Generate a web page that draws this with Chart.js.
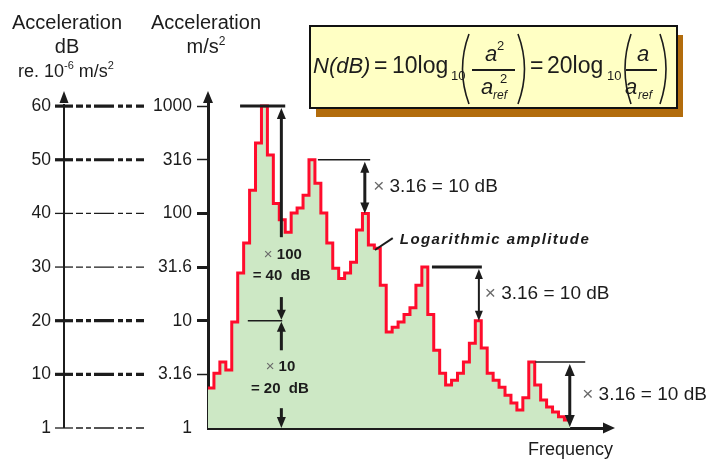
<!DOCTYPE html>
<html>
<head>
<meta charset="utf-8">
<script src="https://cdn.jsdelivr.net/npm/chart.js@4/dist/chart.umd.min.js"></script>
<style>
  html, body { margin: 0; padding: 0; background: #ffffff; }
  #wrap { width: 713px; height: 459px; position: relative; }
</style>
</head>
<body>
<div id="wrap"><canvas id="spectrum"></canvas></div>
<script>
// Band levels of the spectrum (m/s²), one value per equal-width frequency band
const bandLevels = [
  2.36, 3.24, 4.12, 3.47, 9.72, 27.9, 53.1, 164, 452, 1000,
  351, 124, 87.1, 66.8, 101, 112, 148, 316, 191, 101,
  53.1, 30.9, 24.8, 27.9, 35.1, 70.0, 100, 50.7, 47.3, 21.4,
  7.85, 8.71, 9.72, 11.4, 13.2, 21.4, 31.6, 11.4, 5.31, 3.24,
  2.51, 2.79, 3.24, 4.12, 6.17, 10, 5.56, 3.24, 2.79, 2.40,
  2.02, 1.71, 1.47, 1.91, 4.12, 2.51, 1.82, 1.57, 1.41, 1.27, 1.19
];

// Acceleration axis in m/s²
const accelTicks  = [1, 3.16, 10, 31.6, 100, 316, 1000];
const accelLabels = ['1', '3.16', '10', '31.6', '100', '316', '1000'];

// Decibel axis (20·log10 of the acceleration ratio)
const dbTicks  = [0, 10, 20, 30, 40, 50, 60];
const dbLabels = ['1', '10', '20', '30', '40', '50', '60'];

const INK = '#1c1c1c';
const FONT = '"Liberation Sans", Arial, Helvetica, sans-serif';
Chart.defaults.font.family = FONT;
Chart.defaults.color = INK;

// Stepped outline: each band value holds until the next band edge
const points = bandLevels.map((v, i) => ({ x: i, y: v }));
points.push({ x: bandLevels.length, y: bandLevels[bandLevels.length - 1] });

function head(ctx, x, tipY, dir, w, h) {
  // dir = -1 points up, +1 points down
  ctx.beginPath();
  ctx.moveTo(x, tipY);
  ctx.lineTo(x - w / 2, tipY - dir * h);
  ctx.lineTo(x + w / 2, tipY - dir * h);
  ctx.closePath();
  ctx.fill();
}
function seg(ctx, x1, y1, x2, y2, w) {
  ctx.lineWidth = w;
  ctx.beginPath();
  ctx.moveTo(x1, y1);
  ctx.lineTo(x2, y2);
  ctx.stroke();
}
function runs(ctx, x, y, parts, align) {
  // draws text pieces one after another; align 'center' centres the whole run
  let total = 0;
  parts.forEach(p => { ctx.font = p.font; total += ctx.measureText(p.t).width; });
  let cx = align === 'center' ? x - total / 2 : x;
  ctx.textAlign = 'left';
  parts.forEach(p => {
    ctx.font = p.font;
    ctx.fillStyle = p.color || INK;
    ctx.fillText(p.t, cx, y + (p.dy || 0));
    cx += ctx.measureText(p.t).width;
  });
}
function paren(ctx, xEnd, xCtl, top, bottom) {
  ctx.lineWidth = 1.6;
  ctx.beginPath();
  ctx.moveTo(xEnd, top);
  ctx.quadraticCurveTo(xCtl, (top + bottom) / 2, xEnd, bottom);
  ctx.stroke();
}
function ratioLabel(ctx, x, y) {
  runs(ctx, x, y, [
    { t: '× ', font: '19px ' + FONT, color: '#6a6a6a' },
    { t: '3.16 = 10 dB', font: '19px ' + FONT }
  ]);
}

const decor = {
  id: 'decor',
  afterDraw(chart) {
    const { ctx, chartArea: ca } = chart;
    const xs = chart.scales.x, ys = chart.scales.y;
    const X = v => xs.getPixelForValue(v);
    const Y = v => ys.getPixelForValue(v);
    ctx.save();
    ctx.strokeStyle = INK;
    ctx.fillStyle = INK;
    ctx.lineCap = 'butt';
    ctx.textBaseline = 'alphabetic';

    // ---- column headings
    ctx.textAlign = 'center';
    ctx.font = '20px ' + FONT;
    ctx.fillText('Acceleration', 67, 29);
    ctx.fillText('dB', 67, 53);
    ctx.fillText('Acceleration', 206, 29);
    runs(ctx, 206, 53, [
      { t: 'm/s', font: '20px ' + FONT },
      { t: '2', font: '12px ' + FONT, dy: -8 }
    ], 'center');
    runs(ctx, 66, 77, [
      { t: 're. 10', font: '18px ' + FONT },
      { t: '-6', font: '11px ' + FONT, dy: -8 },
      { t: ' m/s', font: '18px ' + FONT },
      { t: '2', font: '11px ' + FONT, dy: -8 }
    ], 'center');

    // ---- decibel scale
    const dbX = 64;
    seg(ctx, dbX, ca.bottom, dbX, ca.top + 4, 2);
    head(ctx, dbX, ca.top - 9, -1, 9, 12);
    dbTicks.forEach((d, i) => {
      const yy = Y(Math.pow(10, d / 20));
      const bold = (d === 10 || d === 20 || d === 50 || d === 60);
      const w = bold ? 3.2 : 1.3;
      seg(ctx, 55, yy, 73, yy, w);
      ctx.setLineDash([7, 3, 5, 3, 20, 4, 5, 3, 6, 4, 9, 40]);
      seg(ctx, 76, yy, 144, yy, w);
      ctx.setLineDash([]);
      ctx.font = '17.5px ' + FONT;
      ctx.textAlign = 'right';
      ctx.textBaseline = 'middle';
      ctx.fillText(dbLabels[i], 51, yy);
      ctx.textBaseline = 'alphabetic';
    });

    // ---- axis arrowheads
    head(ctx, ca.left, ca.top - 9, -1, 10, 12);
    ctx.beginPath();
    ctx.moveTo(ca.right + 9, ca.bottom);
    ctx.lineTo(ca.right - 3, ca.bottom - 5.5);
    ctx.lineTo(ca.right - 3, ca.bottom + 5.5);
    ctx.closePath();
    ctx.fill();
    ctx.font = '18px ' + FONT;
    ctx.textAlign = 'right';
    ctx.textBaseline = 'middle';
    ctx.fillText('Frequency', ca.right + 7, 450);
    ctx.textBaseline = 'alphabetic';

    // ---- × 100 / × 10 brackets at the main peak
    const ax = X(12.35);
    seg(ctx, X(5.4), Y(1000), X(13.0), Y(1000), 3);
    head(ctx, ax, Y(1000) + 2, -1, 9, 11);
    seg(ctx, ax, Y(1000) + 10, ax, Y(60), 3);
    seg(ctx, ax, Y(16.6), ax, Y(10) - 9, 3);
    head(ctx, ax, Y(10) - 1, 1, 9, 10);
    seg(ctx, X(6.7), Y(10), X(12.5), Y(10), 1.5);
    head(ctx, ax, Y(10) + 1, -1, 9, 10);
    seg(ctx, ax, Y(10) + 9, ax, Y(5.3), 3);
    seg(ctx, ax, Y(1.53), ax, Y(1) - 9, 3);
    head(ctx, ax, Y(1), 1, 9, 11);

    ctx.textBaseline = 'middle';
    runs(ctx, X(12.6), Y(40.8), [
      { t: '× ', font: '15px ' + FONT, color: '#6a6a6a' },
      { t: '100', font: 'bold 15px ' + FONT }
    ], 'center');
    runs(ctx, X(12.4), Y(26), [{ t: '= 40  dB', font: 'bold 15px ' + FONT }], 'center');
    runs(ctx, X(12.2), Y(3.7), [
      { t: '× ', font: '15px ' + FONT, color: '#6a6a6a' },
      { t: '10', font: 'bold 15px ' + FONT }
    ], 'center');
    runs(ctx, X(12.1), Y(2.3), [{ t: '= 20  dB', font: 'bold 15px ' + FONT }], 'center');

    // ---- × 3.16 brackets
    // 316 -> 100
    let bx = X(26.4);
    seg(ctx, X(18.5), Y(316), X(27.3), Y(316), 1.5);
    head(ctx, bx, Y(316) + 2, -1, 9, 11);
    seg(ctx, bx, Y(316) + 10, bx, Y(100) - 10, 3);
    head(ctx, bx, Y(100), 1, 9, 11);
    ratioLabel(ctx, X(27.8), Y(178));

    // 31.6 -> 10
    bx = X(45.6);
    seg(ctx, X(37.7), Y(31.6), X(46.1), Y(31.6), 3);
    head(ctx, bx, Y(31.6) + 2, -1, 8, 10);
    seg(ctx, bx, Y(31.6) + 10, bx, Y(10) - 9, 2);
    head(ctx, bx, Y(10), 1, 8, 10);
    ratioLabel(ctx, X(46.6), Y(17.8));

    // last peak -> 1
    bx = X(60.9);
    seg(ctx, X(55.1), Y(4.12), X(63.5), Y(4.12), 1.5);
    head(ctx, bx, Y(4.12) + 2, -1, 10, 12);
    seg(ctx, bx, Y(4.12) + 12, bx, Y(1) - 10, 3);
    head(ctx, bx, Y(1) - 1, 1, 10, 12);
    ratioLabel(ctx, X(63.0), Y(2.03));

    // ---- curve caption with pointer
    seg(ctx, X(28.1), Y(45.6), X(31.1), Y(58.9), 2);
    ctx.font = 'italic bold 15px ' + FONT;
    ctx.letterSpacing = '1.4px';
    ctx.fillStyle = INK;
    ctx.textAlign = 'left';
    ctx.fillText('Logarithmic amplitude', X(32.3), Y(57));
    ctx.letterSpacing = '0px';
    ctx.textBaseline = 'alphabetic';

    // ---- formula box
    ctx.fillStyle = 'rgb(178,108,12)';
    ctx.fillRect(316, 35, 367, 82);
    ctx.fillStyle = 'rgb(255,255,196)';
    ctx.fillRect(310, 26, 367, 82);
    ctx.strokeStyle = '#111';
    ctx.lineWidth = 2;
    ctx.strokeRect(310, 26, 367, 82);

    ctx.fillStyle = INK;
    ctx.strokeStyle = INK;
    ctx.textAlign = 'left';
    ctx.font = 'italic 22px ' + FONT;
    ctx.fillText('N(dB)', 313, 73);
    ctx.font = '23px ' + FONT;
    ctx.fillText('=', 374, 73);
    ctx.fillText('10log', 392, 73);
    ctx.fillText('=', 530, 73);
    ctx.fillText('20log', 547, 73);
    ctx.font = '13px ' + FONT;
    ctx.fillText('10', 451, 80);
    ctx.fillText('10', 607, 80);

    paren(ctx, 469, 456, 34, 104);
    paren(ctx, 518, 531, 34, 104);
    paren(ctx, 631, 619, 34, 104);
    paren(ctx, 660, 672, 34, 104);

    seg(ctx, 472, 70, 515, 70, 2);
    seg(ctx, 626, 70, 657, 70, 2);
    ctx.font = 'italic 22px ' + FONT;
    ctx.fillText('a', 485, 61);
    ctx.fillText('a', 481, 94);
    ctx.fillText('a', 637, 61);
    ctx.fillText('a', 625, 94);
    ctx.font = '13px ' + FONT;
    ctx.fillText('2', 497, 50);
    ctx.fillText('2', 500, 83);
    ctx.font = 'italic 12px ' + FONT;
    ctx.fillText('ref', 493, 99);
    ctx.fillText('ref', 638, 99);

    ctx.restore();
  }
};

const thickAccel = [10, 31.6, 100];

new Chart(document.getElementById('spectrum'), {
  type: 'line',
  data: {
    datasets: [{
      data: points,
      stepped: 'before',
      borderColor: 'rgb(255,12,44)',
      borderWidth: 3,
      backgroundColor: 'rgb(205,232,197)',
      fill: 'start',
      pointRadius: 0,
      tension: 0
    }]
  },
  options: {
    responsive: true,
    maintainAspectRatio: false,
    animation: false,
    events: [],
    layout: { padding: { left: 148, right: 107, top: 100, bottom: 0 } },
    plugins: { legend: { display: false }, tooltip: { enabled: false } },
    scales: {
      x: {
        type: 'linear',
        min: 0,
        max: 67,
        z: 1,
        ticks: { display: false },
        grid: { display: false },
        border: { display: true, width: 3, color: INK },
        afterFit: s => { s.height = 31; }
      },
      y: {
        type: 'logarithmic',
        min: 1,
        max: 1140,
        z: 1,
        afterBuildTicks: s => { s.ticks = accelTicks.map(v => ({ value: v })); },
        afterFit: s => { s.width = 60; },
        ticks: {
          autoSkip: false,
          padding: 5,
          color: INK,
          font: { size: 17.5 },
          callback: (v, i) => accelLabels[i]
        },
        grid: {
          drawOnChartArea: false,
          drawTicks: true,
          tickLength: 11,
          tickWidth: c => thickAccel.includes(c.tick.value) ? 3 : 1.5,
          tickColor: c => c.index === 0 ? 'rgba(0,0,0,0)' : INK
        },
        border: { display: true, width: 3, color: INK }
      }
    }
  },
  plugins: [decor]
});
</script>
</body>
</html>
